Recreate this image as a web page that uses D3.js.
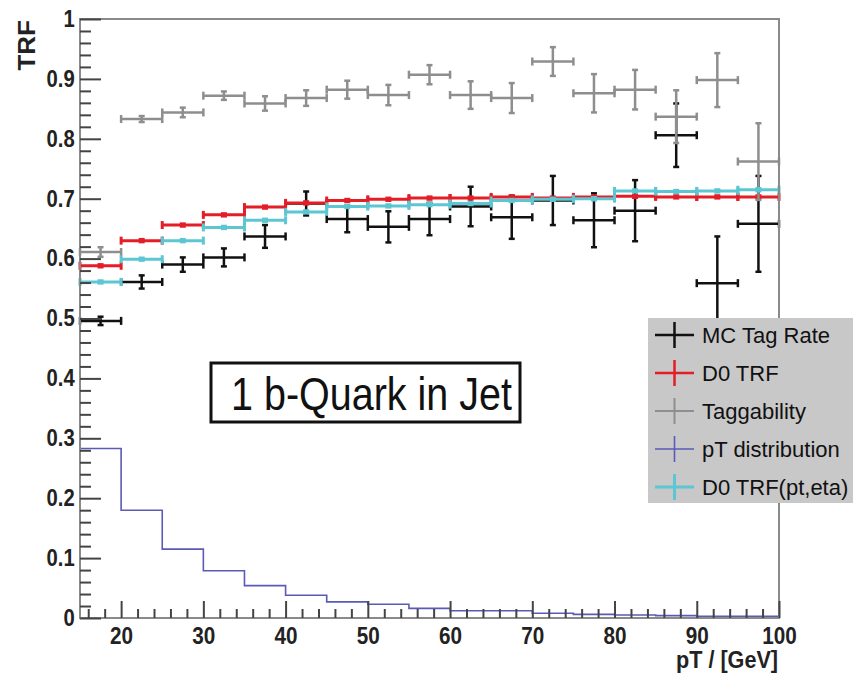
<!DOCTYPE html>
<html>
<head>
<meta charset="utf-8">
<script src="https://cdn.jsdelivr.net/npm/d3@7"></script>
<style>
  html, body { margin: 0; padding: 0; background: #fff; }
  svg { display: block; font-family: "Liberation Sans", Arial, Helvetica, sans-serif; }
</style>
</head>
<body>
<svg id="chart" width="853" height="677"></svg>
<script>
// pT bins (GeV), 5 GeV wide from 15 to 100
const binEdges = [15, 20, 25, 30, 35, 40, 45, 50, 55, 60, 65, 70, 75, 80, 85, 90, 95, 100];

// MC tag rate and its uncertainty
const mcTagRate = [0.496, 0.561, 0.590, 0.602, 0.637, 0.692, 0.666, 0.653, 0.666, 0.687, 0.669, 0.697, 0.664, 0.680, 0.806, 0.559, 0.658];
const mcTagErr  = [0.007, 0.011, 0.012, 0.015, 0.019, 0.020, 0.022, 0.026, 0.027, 0.033, 0.036, 0.041, 0.045, 0.051, 0.053, 0.078, 0.080];

// D0 TRF (pt only)
const d0Trf    = [0.588, 0.630, 0.656, 0.673, 0.686, 0.693, 0.697, 0.699, 0.701, 0.701, 0.703, 0.701, 0.703, 0.704, 0.703, 0.703, 0.703];
const d0TrfErr = [0.002, 0.002, 0.002, 0.002, 0.002, 0.002, 0.002, 0.002, 0.002, 0.002, 0.002, 0.002, 0.002, 0.002, 0.002, 0.002, 0.002];

// Taggability
const taggability    = [0.611, 0.833, 0.844, 0.872, 0.859, 0.868, 0.882, 0.873, 0.907, 0.873, 0.868, 0.929, 0.876, 0.882, 0.837, 0.898, 0.762];
const taggabilityErr = [0.008, 0.005, 0.008, 0.007, 0.012, 0.013, 0.015, 0.017, 0.016, 0.023, 0.025, 0.024, 0.032, 0.033, 0.044, 0.045, 0.064];

// Normalised pT distribution
const ptDist = [0.283, 0.180, 0.115, 0.079, 0.054, 0.038, 0.027, 0.023, 0.016, 0.012, 0.012, 0.008, 0.006, 0.005, 0.004, 0.003, 0.003];

// D0 TRF (pt, eta)
const d0TrfPtEta    = [0.561, 0.599, 0.630, 0.652, 0.664, 0.678, 0.687, 0.688, 0.690, 0.692, 0.697, 0.699, 0.700, 0.713, 0.712, 0.713, 0.715];
const d0TrfPtEtaErr = [0.002, 0.002, 0.002, 0.002, 0.002, 0.002, 0.002, 0.002, 0.002, 0.002, 0.002, 0.002, 0.002, 0.002, 0.002, 0.002, 0.002];

// Axis ticks and labels
const xMajorTicks = [20, 30, 40, 50, 60, 70, 80, 90, 100];
const xTickLabels = ["20", "30", "40", "50", "60", "70", "80", "90", "100"];
const xMinorTicks = d3.range(16, 100, 2).filter(v => v % 10 !== 0);
const yMajorTicks = [0, 0.1, 0.2, 0.3, 0.4, 0.5, 0.6, 0.7, 0.8, 0.9, 1];
const yTickLabels = ["0", "0.1", "0.2", "0.3", "0.4", "0.5", "0.6", "0.7", "0.8", "0.9", "1"];
const yMinorTicks = d3.range(0.02, 1, 0.02).filter(v => Math.abs(v * 10 - Math.round(v * 10)) > 1e-6);

const legendLabels = ["MC Tag Rate", "D0 TRF", "Taggability", "pT distribution", "D0 TRF(pt,eta)"];
const seriesColors = ["#111111", "#e41e26", "#8e8e8e", "#5a5ab8", "#5cc6d3"];

const svg = d3.select("#chart");
const plotLeft = 80, plotRight = 779, plotTop = 19, plotBottom = 618;

const x = d3.scaleLinear().domain([15, 100]).range([plotLeft, plotRight]);
const y = d3.scaleLinear().domain([0, 1]).range([plotBottom, plotTop]);

const bins = binEdges.slice(0, -1).map((lo, i) => ({ lo, hi: binEdges[i + 1], mid: (lo + binEdges[i + 1]) / 2, i }));

// Error-bar series drawn ROOT "E1" style: horizontal bin-width bar, vertical error bar, end caps
function drawErrorSeries(values, errors, color, width) {
  const g = svg.append("g").attr("stroke", color).attr("stroke-width", width).attr("fill", "none");
  bins.forEach(b => {
    const v = values[b.i], e = errors[b.i];
    const yv = y(v), x0 = x(b.lo), x1 = x(b.hi), xm = x(b.mid);
    g.append("line").attr("x1", x0).attr("x2", x1).attr("y1", yv).attr("y2", yv);
    g.append("line").attr("x1", x0).attr("x2", x0).attr("y1", yv - 4).attr("y2", yv + 4);
    g.append("line").attr("x1", x1).attr("x2", x1).attr("y1", yv - 4).attr("y2", yv + 4);
    const yt = y(v + e), yb = y(v - e);
    g.append("line").attr("x1", xm).attr("x2", xm).attr("y1", yt).attr("y2", yb);
    g.append("line").attr("x1", xm - 3).attr("x2", xm + 3).attr("y1", yt).attr("y2", yt);
    g.append("line").attr("x1", xm - 3).attr("x2", xm + 3).attr("y1", yb).attr("y2", yb);
  });
}

// Step histogram
function drawHist(values, color, width) {
  const pts = [];
  bins.forEach(b => { pts.push([x(b.lo), y(values[b.i])]); pts.push([x(b.hi), y(values[b.i])]); });
  pts.push([x(100), y(0)]);
  svg.append("path")
    .attr("d", d3.line()(pts))
    .attr("fill", "none").attr("stroke", color).attr("stroke-width", width);
}

drawErrorSeries(mcTagRate, mcTagErr, seriesColors[0], 2.5);
drawErrorSeries(d0Trf, d0TrfErr, seriesColors[1], 3);
drawErrorSeries(taggability, taggabilityErr, seriesColors[2], 2.5);
drawHist(ptDist, seriesColors[3], 1.6);
drawErrorSeries(d0TrfPtEta, d0TrfPtEtaErr, seriesColors[4], 3);

// Frame
svg.append("rect")
  .attr("x", plotLeft).attr("y", plotTop).attr("width", plotRight - plotLeft).attr("height", plotBottom - plotTop)
  .attr("fill", "none").attr("stroke", "#8a8a8a").attr("stroke-width", 2);

// Y axis: inward ticks, labels on the left
const yAxisG = svg.append("g").attr("transform", `translate(${plotLeft},0)`);
yAxisG.append("g").call(d3.axisLeft(y).tickValues(yMinorTicks).tickSize(-11).tickFormat(""));
yAxisG.append("g").call(d3.axisLeft(y).tickValues(yMajorTicks).tickSize(-21).tickPadding(6)
  .tickFormat((d, i) => yTickLabels[i]));
yAxisG.selectAll(".domain").remove();
yAxisG.selectAll(".tick line").attr("stroke", "#444").attr("stroke-width", 2);
yAxisG.selectAll(".tick text")
  .attr("font-size", 23).attr("font-weight", "bold").attr("fill", "#222")
  .attr("font-family", "'Liberation Sans', Arial, sans-serif")
  .attr("transform", "scale(0.88,1)");

// X axis: inward (upward) ticks, labels below
const xAxisG = svg.append("g").attr("transform", `translate(0,${plotBottom})`);
xAxisG.append("g").call(d3.axisBottom(x).tickValues(xMinorTicks).tickSize(-9).tickFormat(""));
xAxisG.append("g").call(d3.axisBottom(x).tickValues(xMajorTicks).tickSize(-17).tickPadding(10)
  .tickFormat((d, i) => xTickLabels[i]));
xAxisG.selectAll(".domain").remove();
xAxisG.selectAll(".tick line").attr("stroke", "#444").attr("stroke-width", 2);
xAxisG.selectAll(".tick text")
  .attr("font-size", 23).attr("font-weight", "bold").attr("fill", "#222")
  .attr("font-family", "'Liberation Sans', Arial, sans-serif")
  .attr("transform", "scale(0.9,1)");

// Axis titles
svg.append("text")
  .attr("transform", "translate(35,20) scale(0.9,1) rotate(-90)")
  .attr("text-anchor", "end")
  .attr("font-size", 26).attr("font-weight", "bold").attr("fill", "#222")
  .text("TRF");

svg.append("text")
  .attr("x", 778).attr("y", 668)
  .attr("text-anchor", "end")
  .attr("font-size", 23).attr("font-weight", "bold").attr("fill", "#222")
  .attr("textLength", 102).attr("lengthAdjust", "spacingAndGlyphs")
  .text("pT / [GeV]");

// Label box
svg.append("rect")
  .attr("x", 211).attr("y", 363).attr("width", 309).attr("height", 59)
  .attr("fill", "#fff").attr("stroke", "#111").attr("stroke-width", 3);
svg.append("text")
  .attr("x", 231).attr("y", 410)
  .attr("font-size", 46).attr("fill", "#111")
  .attr("textLength", 281).attr("lengthAdjust", "spacingAndGlyphs")
  .text("1 b-Quark in Jet");

// Legend
const legend = svg.append("g");
legend.append("rect")
  .attr("x", 648).attr("y", 318).attr("width", 210).attr("height", 185)
  .attr("fill", "#c8c8c8");
const legendWidths = [2.5, 2.5, 2, 1.6, 3];
legendLabels.forEach((lab, i) => {
  const cy = 335 + i * 38;
  const g = legend.append("g").attr("stroke", seriesColors[i]).attr("stroke-width", legendWidths[i]);
  g.append("line").attr("x1", 655).attr("x2", 694).attr("y1", cy).attr("y2", cy);
  g.append("line").attr("x1", 674.5).attr("x2", 674.5).attr("y1", cy - 13).attr("y2", cy + 13);
  legend.append("text")
    .attr("x", 702).attr("y", cy + 8)
    .attr("font-size", 22).attr("fill", "#111")
    .text(lab);
});
</script>
</body>
</html>
